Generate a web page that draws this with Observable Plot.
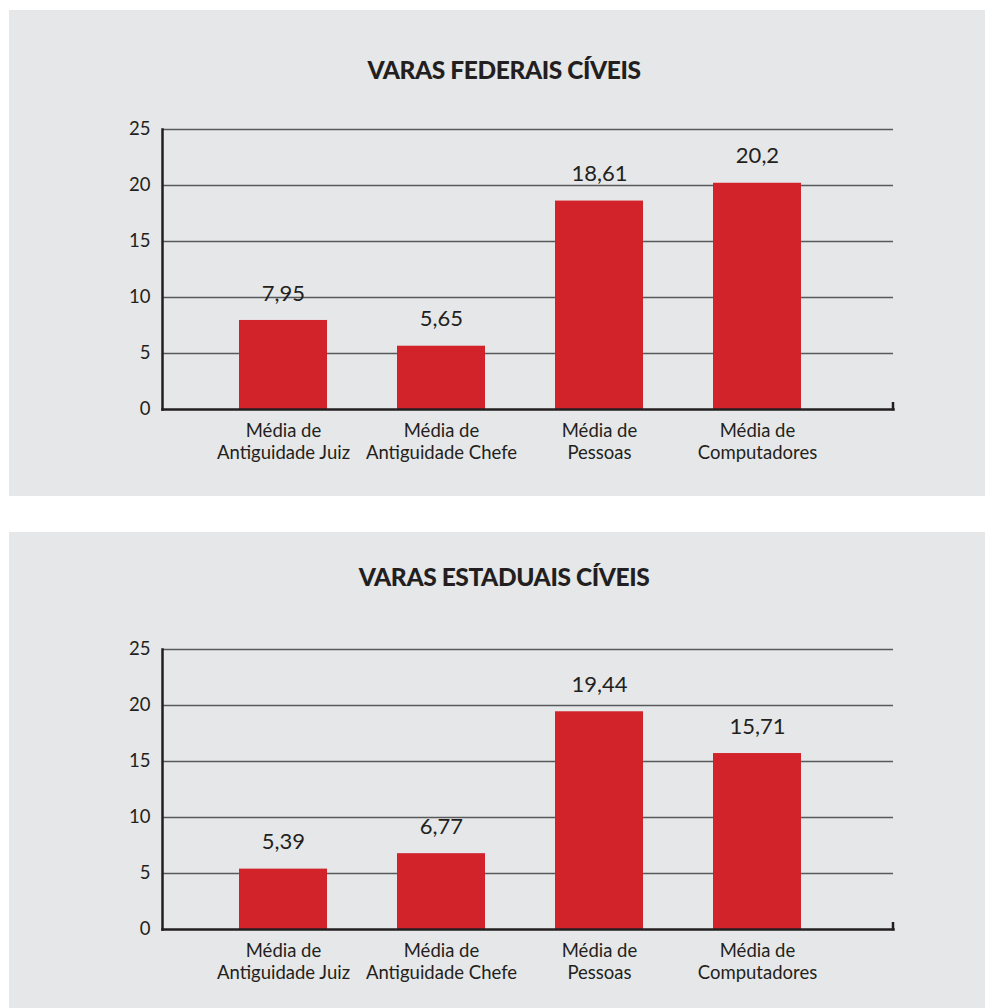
<!DOCTYPE html>
<html><head><meta charset="utf-8">
<script src="https://cdn.jsdelivr.net/npm/d3@7"></script>
<script src="https://cdn.jsdelivr.net/npm/@observablehq/plot@0.6"></script>
<style>
body{margin:0;background:#fff;font-family:Lato,sans-serif;}
#page{position:relative;width:985px;height:1008px;overflow:hidden;}
.panel{position:absolute;left:9px;width:976px;background:#e6e7e8;}
.title{position:absolute;left:0;width:990px;text-align:center;font-weight:900;font-size:24.5px;color:#231f20;line-height:1;transform:translateY(-50%);letter-spacing:-0.4px;}
.chart{position:absolute;left:0;}
.chart svg{overflow:visible;}
</style></head><body>
<div id="page"></div>
<script>
const categories = ["Média de\nAntiguidade Juiz", "Média de\nAntiguidade Chefe", "Média de\nPessoas", "Média de\nComputadores"];
const federalValues = [7.95, 5.65, 18.61, 20.2];
const estadualValues = [5.39, 6.77, 19.44, 15.71];
const yTicks = [0, 5, 10, 15, 20, 25];
const titles = ["VARAS FEDERAIS CÍVEIS", "VARAS ESTADUAIS CÍVEIS"];

const fmt = v => String(v).replace(".", ",");
const W = 976, H = 380, ML = 153, MR = 92, MT = 29, MB = 71;

function chart(values) {
  const data = categories.map((c, i) => ({category: c, value: values[i]}));
  const p = Plot.plot({
    width: W, height: H, marginLeft: ML, marginRight: MR, marginTop: MT, marginBottom: MB,
    style: {background: "transparent", fontFamily: "Lato, sans-serif", color: "#231f20", overflow: "visible"},
    x: {domain: categories, range: [193.8, 827.2], paddingInner: 0.4442, paddingOuter: 0.2221, align: 0.5},
    y: {domain: [0, 25]},
    marks: [
      Plot.ruleY(yTicks.filter(t => t > 0), {stroke: "#58595b", strokeWidth: 1.5}),
      Plot.barY(data, {x: "category", y: "value", fill: "#d2232a"}),
      Plot.axisY({ticks: yTicks, tickSize: 0, tickPadding: 12, fontSize: 18.5, label: null, fill: "#231f20"}),
      Plot.axisX({tickSize: 0, tickPadding: 12, fontSize: 18.5, label: null, lineHeight: 1.2, fill: "#231f20"}),
      Plot.frame({anchor: "left", stroke: "#231f20", strokeWidth: 2.5}),
      Plot.frame({anchor: "bottom", stroke: "#231f20", strokeWidth: 2.5}),
      Plot.text(data, {x: "category", y: "value", text: d => fmt(d.value), dy: -27, fontSize: 22, fill: "#231f20"})
    ]
  });
  // small end tick at the right end of the baseline
  const y0 = p.scale("y").apply(0);
  const xEnd = W - MR;
  d3.select(p).append("line")
    .attr("x1", xEnd).attr("x2", xEnd).attr("y1", y0 + 1.25).attr("y2", y0 - 7)
    .attr("stroke", "#231f20").attr("stroke-width", 2.5);
  return p;
}

const page = document.getElementById("page");
const panels = [
  {top: 10, height: 486, titleY: 60, chartTop: 90, values: federalValues, title: titles[0]},
  {top: 532, height: 476, titleY: 45, chartTop: 88, values: estadualValues, title: titles[1]}
];
for (const cfg of panels) {
  const panel = document.createElement("div");
  panel.className = "panel";
  panel.style.top = cfg.top + "px";
  panel.style.height = cfg.height + "px";
  const t = document.createElement("div");
  t.className = "title";
  t.style.top = cfg.titleY + "px";
  t.textContent = cfg.title;
  panel.appendChild(t);
  const c = document.createElement("div");
  c.className = "chart";
  c.style.top = cfg.chartTop + "px";
  c.appendChild(chart(cfg.values));
  panel.appendChild(c);
  page.appendChild(panel);
}
</script>
</body></html>
